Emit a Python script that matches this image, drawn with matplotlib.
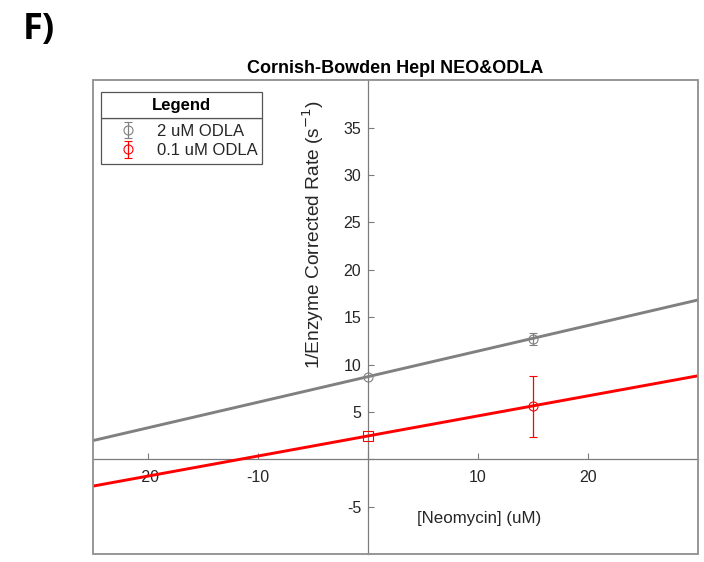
import matplotlib
matplotlib.use("Agg")
import matplotlib.pyplot as plt
import numpy as np
from matplotlib.patches import Rectangle

plt.rcParams['font.family'] = ['Liberation Sans', 'DejaVu Sans']

# Series labels and colours
series_labels = ["2 uM ODLA", "0.1 uM ODLA"]
series_colors = ["#808080", "#ff0000"]

# Measured points at [Neomycin] = 15 uM (mean, error)
neo_measured = [15, 15]
rate_measured = [12.7, 5.6]
rate_err = [0.67, 3.2]

# Linear fits (intercept at [Neomycin] = 0 and slope)
fit_intercepts = [8.72, 2.46]
fit_slopes = [0.2696, 0.2115]
intercept_markers = ["o", "s"]

x_ticks = [-20, -10, 0, 10, 20]
y_ticks = [-5, 0, 5, 10, 15, 20, 25, 30, 35]
x_limits = (-25, 30)
y_limits = (-10, 40)

W, H = 704, 562
fig = plt.figure(figsize=(W / 100, H / 100), dpi=100)
ax = fig.add_axes([93.3 / W, 1 - 554 / H, (697.7 - 93.3) / W, (554 - 80.3) / H])

ax.set_xlim(*x_limits)
ax.set_ylim(*y_limits)

axis_gray = "#7c7c7c"
text_gray = "#262626"

# Axes crossing at the origin
for side in ("top", "right"):
    ax.spines[side].set_visible(False)
ax.spines["left"].set_position(("data", 0))
ax.spines["bottom"].set_position(("data", 0))
for side in ("left", "bottom"):
    ax.spines[side].set_color(axis_gray)
    ax.spines[side].set_linewidth(0.9)

# Outer box
ax.add_patch(Rectangle((0, 0), 1, 1, transform=ax.transAxes, fill=False,
                       edgecolor="#8f8f8f", linewidth=1.3, clip_on=False, zorder=5))

ax.set_xticks(x_ticks)
ax.set_yticks(y_ticks)
ax.set_xticklabels(["" if v == 0 else f"{v:g}" for v in x_ticks])
ax.set_yticklabels(["" if v == 0 else f"{v:g}" for v in y_ticks])
ax.tick_params(axis="both", direction="in", length=4, width=0.8, color=axis_gray,
               labelsize=11.5, labelcolor=text_gray)
ax.tick_params(axis="y", pad=5)
ax.tick_params(axis="x", pad=8)

# Fitted lines across the full x range
xs = np.array(x_limits, dtype=float)
for b, m, c in zip(fit_intercepts, fit_slopes, series_colors):
    ax.plot(xs, b + m * xs, color=c, linewidth=2.1, zorder=3, solid_capstyle="butt")

# Intercept points at x = 0
for b, mk, c in zip(fit_intercepts, intercept_markers, series_colors):
    ax.plot([0], [b], marker=mk, markersize=6.5, markerfacecolor="none",
            markeredgecolor=c, markeredgewidth=0.8, linestyle="none", zorder=4)

# Measured points with error bars
handles = []
for x, y, e, c, lab in zip(neo_measured, rate_measured, rate_err, series_colors, series_labels):
    h = ax.errorbar([x], [y], yerr=[e], fmt="o", markersize=6.5, markerfacecolor="none",
                    markeredgecolor=c, markeredgewidth=0.8, ecolor=c, elinewidth=0.9,
                    capsize=3.2, capthick=0.9, color=c, label=lab, zorder=4)
    handles.append(h)

ax.set_title("Cornish-Bowden HepI NEO&ODLA", fontsize=13, fontweight="bold",
             color="black", pad=5)

fig.text(313 / W, 1 - 234 / H, "1/Enzyme Corrected Rate (s$^{-1}$)", rotation=90,
         ha="center", va="center", fontsize=13.8, color=text_gray)
fig.text(479 / W, 1 - 518 / H, "[Neomycin] (uM)", ha="center", va="center",
         fontsize=12.2, color=text_gray)

fig.text(23 / W, 1 - 30 / H, "F)", fontsize=26, fontweight="bold",
         family=["Open Sans", "DejaVu Sans"], ha="left", va="center", color="black")

# Legend: header box with title, entry box below
lx0, lx1 = 100.7, 262
ly_top, ly_sep, ly_bot = 92.3, 118.3, 163
frame_color = "#555555"
fig.add_artist(Rectangle((lx0 / W, 1 - ly_sep / H), (lx1 - lx0) / W, (ly_sep - ly_top) / H,
                         transform=fig.transFigure, facecolor="white",
                         edgecolor=frame_color, linewidth=0.9, zorder=6))
fig.text((lx0 + lx1) / 2 / W, 1 - (ly_top + ly_sep) / 2 / H, "Legend", ha="center",
         va="center", fontsize=12, fontweight="bold", color="black", zorder=7)

leg = ax.legend(handles=handles, labels=series_labels, loc="upper left",
                bbox_to_anchor=(lx0 / W, 1 - ly_bot / H, (lx1 - lx0) / W, (ly_bot - ly_sep) / H),
                bbox_transform=fig.transFigure, mode="expand", borderaxespad=0,
                fontsize=12, frameon=True, fancybox=False, edgecolor=frame_color,
                framealpha=1, handlelength=2.6, handletextpad=0.45, labelspacing=0.26,
                borderpad=0.33)
leg.get_frame().set_linewidth(0.9)
for t in leg.get_texts():
    t.set_color(text_gray)
leg.set_zorder(6)

fig.savefig("out.png", dpi=100)
